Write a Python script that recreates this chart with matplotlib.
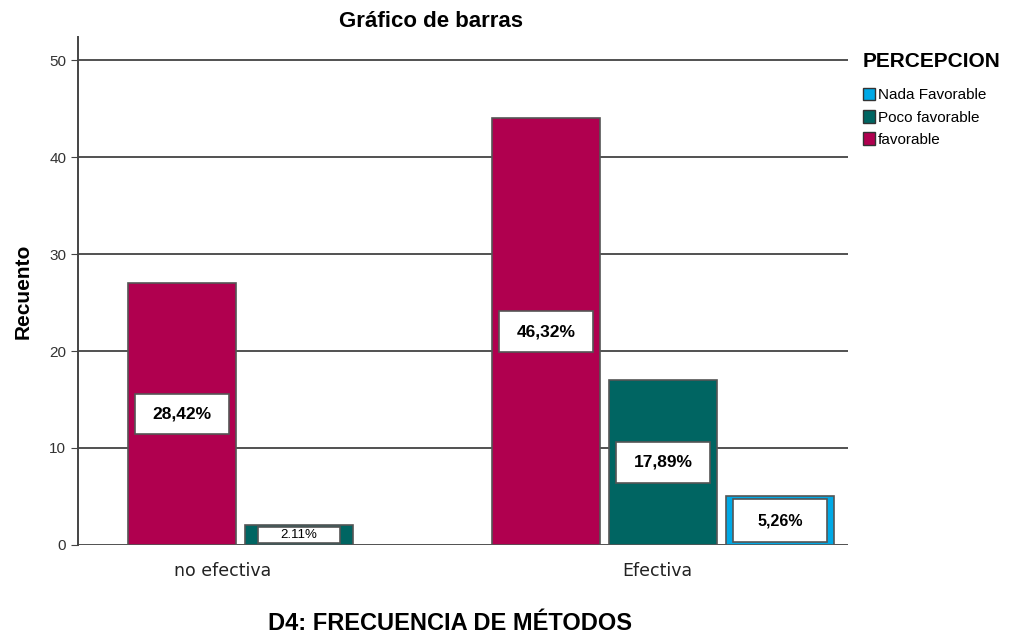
import matplotlib.pyplot as plt
from matplotlib.patches import Patch, Rectangle

plt.rcParams['font.family'] = ['Liberation Sans', 'DejaVu Sans']

# datos
categories = ['no efectiva', 'Efectiva']
series = ['favorable', 'Poco favorable', 'Nada Favorable']
favorable = [27, 44]
poco_favorable = [2, 17]
nada_favorable = [0, 5]
pct_favorable = ['28,42%', '46,32%']
pct_poco = ['2.11%', '17,89%']
pct_nada = ['', '5,26%']
y_ticks = [0, 10, 20, 30, 40, 50]

colors = {'favorable': '#B0004F', 'Poco favorable': '#006562', 'Nada Favorable': '#00A9E6'}

fig = plt.figure(figsize=(10.09, 6.38), dpi=100)
ax = fig.add_axes([0.0773, 0.146, 0.763, 0.796])

group_start = [0, 3.11]
bar_w = 0.92
values = [favorable, poco_favorable, nada_favorable]
labels = [pct_favorable, pct_poco, pct_nada]

for g in range(len(categories)):
    slot = 0
    for s, name in enumerate(series):
        v = values[s][g]
        if v == 0:
            continue
        x = group_start[g] + slot
        ax.bar(x, v, width=bar_w, color=colors[name], edgecolor='#555555',
               linewidth=1.2, zorder=3)
        # caja blanca con el porcentaje
        if v > 6:
            bw, bh = 0.88 * bar_w, 4.2
            fs, fw = 12.5, 'bold'
        elif v > 3:
            bw, bh = 0.88 * bar_w, v - 0.5
            fs, fw = 11.5, 'bold'
        else:
            bw, bh = 0.76 * bar_w, v - 0.35
            fs, fw = 9.5, 'normal'
        ym = v / 2
        ax.add_patch(Rectangle((x - bw / 2, ym - bh / 2), bw, bh, facecolor='white',
                               edgecolor='#555555', linewidth=1.2, zorder=4))
        ax.text(x, ym, labels[s][g], ha='center', va='center', fontsize=fs,
                fontweight=fw, zorder=5)
        slot += 1

ax.set_xlim(-0.89, 5.69)
ax.set_ylim(0, 52.4)
ax.set_yticks(y_ticks)
ax.tick_params(axis='y', labelsize=11, length=5, color='#444444', labelcolor='#333333')
ax.set_xticks([0.35, 4.06])
ax.set_xticklabels(categories, family='DejaVu Sans', fontsize=12.5, color='#222222')
ax.tick_params(axis='x', length=0, pad=12)

for t in y_ticks:
    ax.axhline(t, color='#333333', linewidth=1.2, zorder=1)

for side in ['top', 'right', 'bottom']:
    ax.spines[side].set_visible(False)
ax.spines['left'].set_color('#444444')
ax.spines['left'].set_linewidth(1.4)

ax.set_ylabel('Recuento', fontsize=15, fontweight='bold', labelpad=12)
fig.text(0.446, 1 - 624 / 638, 'D4: FRECUENCIA DE MÉTODOS', ha='center', va='center',
         fontsize=17, fontweight='bold')
fig.text(0.427, 0.966, 'Gráfico de barras', ha='center', va='center',
         fontsize=16, fontweight='bold')

handles = [Patch(facecolor=colors[n], edgecolor='#333333', label=n) for n in series[::-1]]
leg = fig.legend(handles=handles, title='PERCEPCION', loc='upper left',
                 bbox_to_anchor=(0.849, 0.928), frameon=False, fontsize=11,
                 handlelength=0.8, handleheight=0.9, handletextpad=0.2,
                 labelspacing=0.5, borderaxespad=0)
leg.get_title().set_fontsize(15)
leg.get_title().set_fontweight('bold')
leg._legend_box.align = 'left'
leg._legend_box.sep = 12

fig.savefig('out.png', dpi=100)
